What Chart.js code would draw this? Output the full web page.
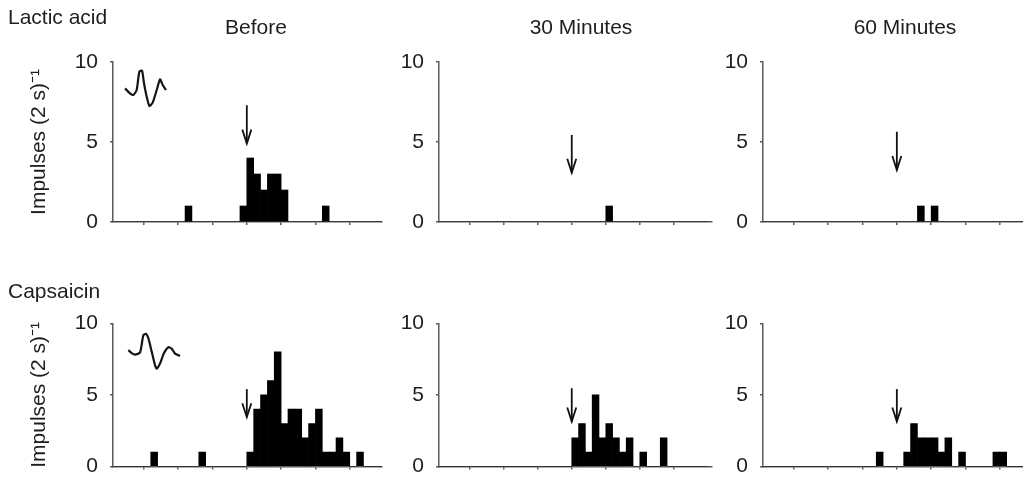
<!DOCTYPE html>
<html>
<head>
<meta charset="utf-8">
<script src="https://cdn.jsdelivr.net/npm/chart.js@4.4.0/dist/chart.umd.min.js"></script>
<style>
  html, body { margin: 0; padding: 0; background: #fff; overflow: hidden; width: 1023px; height: 491px; }
  body { position: relative; }
  canvas { position: absolute; }
</style>
</head>
<body>
<canvas id="p1" width="400" height="250" style="left:0px;top:0px"></canvas>
<canvas id="p2" width="320" height="250" style="left:400px;top:0px"></canvas>
<canvas id="p3" width="320" height="250" style="left:720px;top:0px"></canvas>
<canvas id="p4" width="400" height="236" style="left:0px;top:255px"></canvas>
<canvas id="p5" width="320" height="236" style="left:400px;top:255px"></canvas>
<canvas id="p6" width="320" height="236" style="left:720px;top:255px"></canvas>
<script>
// 2 s bins, index 0..39; tick marks every 5 bins, stimulus at bin 20
const bins = Array.from({length: 40}, (_, i) => i);
const xTicks = [5, 10, 15, 20, 25, 30, 35];
const yTicks = [0, 5, 10];
const rowLabels = ['Lactic acid', 'Capsaicin'];
const colTitles = ['Before', '30 Minutes', '60 Minutes'];
const yTitle = 'Impulses (2 s)\u207B\u00B9';

const lacticBefore = [0,0,0,0,0,0,0,0,0,0, 0,1,0,0,0,0,0,0,0,1, 4,3,2,3,3,2,0,0,0,0, 0,1,0,0,0,0,0,0,0,0];
const lactic30     = [0,0,0,0,0,0,0,0,0,0, 0,0,0,0,0,0,0,0,0,0, 0,0,0,0,0,1,0,0,0,0, 0,0,0,0,0,0,0,0,0,0];
const lactic60     = [0,0,0,0,0,0,0,0,0,0, 0,0,0,0,0,0,0,0,0,0, 0,0,0,1,0,1,0,0,0,0, 0,0,0,0,0,0,0,0,0,0];
const capsBefore   = [0,0,0,0,0,0,1,0,0,0, 0,0,0,1,0,0,0,0,0,0, 1,4,5,6,8,3,4,4,2,3, 4,1,1,2,1,0,1,0,0,0];
const caps30       = [0,0,0,0,0,0,0,0,0,0, 0,0,0,0,0,0,0,0,0,0, 2,3,1,5,2,3,2,1,2,0, 1,0,0,2,0,0,0,0,0,0];
const caps60       = [0,0,0,0,0,0,0,0,0,0, 0,0,0,0,0,0,0,1,0,0, 0,1,3,2,2,2,1,2,0,1, 0,0,0,0,1,1,0,0,0,0];

// spike waveform insets (x in bins, y in impulses)
const spikeLacticX = [2.25,2.98,3.46,3.95,4.34,4.73,5.02,5.41,5.8,6.28,6.87,7.35,7.74,8.23];
const spikeLacticY = [8.35,8.04,7.94,8.25,9.4,9.46,8.67,7.83,7.25,7.46,8.25,8.92,8.56,8.25];
const spikeCapsX = [2.74,3.22,3.7,4.44,4.92,5.31,5.65,6.14,6.62,6.87,7.35,7.93,8.57,9.05,9.54,10.27];
const spikeCapsY = [8.12,7.92,7.81,7.96,9.16,9.27,8.96,8.02,7.08,6.83,7.19,7.92,8.33,8.23,7.88,7.71];

// stimulus arrows: bin, top end, tip
const arrowBin = 20;
const arrowTop = [7.3, 5.44, 5.64, 5.4, 5.46, 5.4];
const arrowTip = [4.9, 3.08, 3.25, 3.44, 3.14, 3.14];

const FONT = "'Liberation Sans', Arial, sans-serif";
const FSIZE = 21;
const TEXT = '#1e1e1e';
const AXIS = '#5a5a5a';
Chart.defaults.font.family = FONT;

const textPlugin = {
  id: 'panelText',
  afterDraw(chart, args, opts) {
    const ctx = chart.ctx;
    ctx.save();
    ctx.fillStyle = TEXT;
    ctx.font = FSIZE + 'px ' + FONT;
    ctx.textBaseline = 'middle';
    (opts.items || []).forEach(it => {
      ctx.textAlign = it.align;
      ctx.fillText(it.text, it.x, it.y);
    });
    ctx.restore();
  }
};

const arrowPlugin = {
  id: 'stimArrow',
  afterDatasetsDraw(chart, args, opts) {
    const ctx = chart.ctx;
    const px = chart.scales.x.getPixelForValue(opts.bin);
    const y0 = chart.scales.y.getPixelForValue(opts.top);
    const y1 = chart.scales.y.getPixelForValue(opts.tip);
    ctx.save();
    ctx.strokeStyle = '#111';
    ctx.lineWidth = 1.8;
    ctx.beginPath();
    ctx.moveTo(px, y0);
    ctx.lineTo(px, y1);
    ctx.stroke();
    ctx.beginPath();
    ctx.moveTo(px - 4.5, y1 - 14);
    ctx.lineTo(px, y1);
    ctx.lineTo(px + 4.5, y1 - 14);
    ctx.stroke();
    ctx.restore();
  }
};

function buildPanel(id, counts, idx, lay, spike, texts) {
  const datasets = [{
    type: 'bar',
    data: bins.map((b, i) => ({x: b + 0.5, y: counts[i]})),
    backgroundColor: '#000',
    borderWidth: 0,
    barPercentage: 1,
    categoryPercentage: 1
  }];
  if (spike) {
    datasets.push({
      type: 'line',
      data: spike[0].map((v, i) => ({x: v, y: spike[1][i]})),
      borderColor: '#151515',
      borderWidth: 2.2,
      pointRadius: 0,
      tension: 0.2
    });
  }
  new Chart(document.getElementById(id), {
    type: 'bar',
    data: {datasets: datasets},
    options: {
      responsive: false,
      animation: false,
      devicePixelRatio: 1,
      layout: {padding: {left: 0, top: lay.padTop, right: lay.padRight, bottom: 0}},
      plugins: {
        legend: {display: false},
        tooltip: {enabled: false},
        panelText: {items: texts},
        stimArrow: {bin: arrowBin, top: arrowTop[idx], tip: arrowTip[idx]}
      },
      scales: {
        x: {
          type: 'linear',
          offset: false,
          min: 0.5,
          max: lay.xMax,
          afterBuildTicks: s => { s.ticks = xTicks.map(v => ({value: v})); },
          afterFit: s => { s.height = lay.xAxisH; },
          ticks: {display: false},
          grid: {offset: false, drawOnChartArea: false, drawTicks: true, tickLength: 3, color: AXIS, lineWidth: 1.5},
          border: {display: true, color: AXIS, width: 1.5}
        },
        y: {
          min: 0,
          max: 10,
          afterBuildTicks: s => { s.ticks = yTicks.map(v => ({value: v})); },
          afterFit: s => { s.width = lay.yAxisW; },
          ticks: {padding: 12, color: TEXT, font: {size: FSIZE}},
          grid: {drawOnChartArea: false, drawTicks: true, tickLength: 3, color: AXIS, lineWidth: 1.5},
          border: {display: true, color: AXIS, width: 1.5},
          title: {
            display: lay.showTitle,
            text: yTitle,
            color: TEXT,
            font: {size: FSIZE},
            padding: {top: 27, bottom: 0}
          }
        }
      }
    },
    plugins: [textPlugin, arrowPlugin]
  });
}

const topRow = {padTop: 62, xAxisH: 28};
const bottomRow = {padTop: 68.3, xAxisH: 7.7};
const cols = [
  {yAxisW: 113, padRight: 18, xMax: 39.7, showTitle: true},
  {yAxisW: 39, padRight: 8, xMax: 40.6, showTitle: false},
  {yAxisW: 43, padRight: 10, xMax: 39.4, showTitle: false}
];
function panelLayout(row, col) { return Object.assign({}, row, cols[col]); }

buildPanel('p1', lacticBefore, 0, panelLayout(topRow, 0), [spikeLacticX, spikeLacticY], [
  {text: rowLabels[0], x: 8, y: 18, align: 'left'},
  {text: colTitles[0], x: 256, y: 28, align: 'center'}
]);
buildPanel('p2', lactic30, 1, panelLayout(topRow, 1), null, [
  {text: colTitles[1], x: 181, y: 28, align: 'center'}
]);
buildPanel('p3', lactic60, 2, panelLayout(topRow, 2), null, [
  {text: colTitles[2], x: 185, y: 28, align: 'center'}
]);
buildPanel('p4', capsBefore, 3, panelLayout(bottomRow, 0), [spikeCapsX, spikeCapsY], [
  {text: rowLabels[1], x: 8, y: 37, align: 'left'}
]);
buildPanel('p5', caps30, 4, panelLayout(bottomRow, 1), null, []);
buildPanel('p6', caps60, 5, panelLayout(bottomRow, 2), null, []);
</script>
</body>
</html>
